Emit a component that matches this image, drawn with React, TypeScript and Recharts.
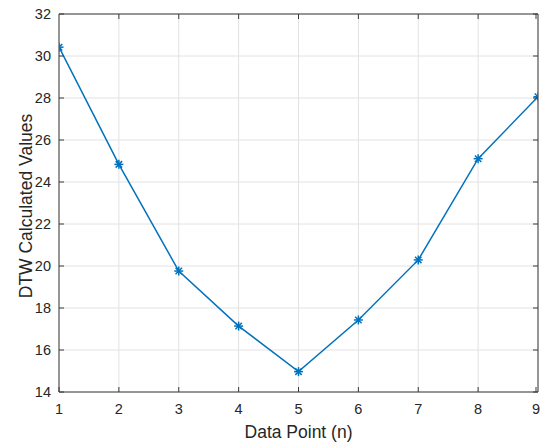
import React from "react";
import { LineChart, Line, XAxis, YAxis, CartesianGrid } from "recharts";

const dataPoints = [1, 2, 3, 4, 5, 6, 7, 8, 9];
const dtwValues = [30.42, 24.84, 19.76, 17.14, 14.97, 17.43, 20.29, 25.11, 28.06];
const xTicks = [1, 2, 3, 4, 5, 6, 7, 8, 9];
const yTicks = [14, 16, 18, 20, 22, 24, 26, 28, 30, 32];

const data = dataPoints.map((n, i) => ({ n, v: dtwValues[i] }));

const BLUE = "#0072BD";
const AXIS = "#3a3a3a";
const TEXT = "#262626";
const FONT = "'Liberation Sans', Arial, Helvetica, sans-serif";

function StarDot(props: any) {
  const { cx, cy } = props;
  if (cx == null || cy == null) return null;
  const r = 4.5;
  const d = r * 0.72;
  return (
    <g stroke={BLUE} strokeWidth={1.5}>
      <line x1={cx - r} y1={cy} x2={cx + r} y2={cy} />
      <line x1={cx} y1={cy - r} x2={cx} y2={cy + r} />
      <line x1={cx - d} y1={cy - d} x2={cx + d} y2={cy + d} />
      <line x1={cx - d} y1={cy + d} x2={cx + d} y2={cy - d} />
    </g>
  );
}

function BottomTick(props: any) {
  const { x, y, payload } = props;
  return (
    <g>
      <line x1={x} y1={y} x2={x} y2={y - 5} stroke={AXIS} />
      <text x={x} y={y + 22} textAnchor="middle" fontSize={14.5} fill={TEXT} fontFamily={FONT}>
        {payload.value}
      </text>
    </g>
  );
}

function TopTick(props: any) {
  const { x, y } = props;
  return <line x1={x} y1={y} x2={x} y2={y + 5} stroke={AXIS} />;
}

function LeftTick(props: any) {
  const { x, y, payload } = props;
  return (
    <g>
      <line x1={x} y1={y} x2={x + 5} y2={y} stroke={AXIS} />
      <text x={x - 8} y={y + 5} textAnchor="end" fontSize={14.5} fill={TEXT} fontFamily={FONT}>
        {payload.value}
      </text>
    </g>
  );
}

function RightTick(props: any) {
  const { x, y } = props;
  return <line x1={x} y1={y} x2={x - 5} y2={y} stroke={AXIS} />;
}

export default function App() {
  return (
    <div style={{ position: "absolute", left: 0, top: 0, background: "#fff" }}>
      <LineChart width={540} height={444} data={data} margin={{ top: 13, right: 1, bottom: 0, left: 0 }}>
        <CartesianGrid stroke="#e2e2e2" strokeWidth={1} />
        <XAxis
          dataKey="n"
          type="number"
          domain={[1, 9]}
          ticks={xTicks}
          allowDataOverflow
          height={52}
          tickSize={0}
          tickMargin={0}
          tickLine={false}
          tick={BottomTick}
          stroke={AXIS}
          label={{
            content: (p: any) => {
              const vb = p.viewBox;
              return (
                <text x={vb.x + vb.width / 2} y={vb.y + 46} textAnchor="middle" fontSize={17.5} fill={TEXT} fontFamily={FONT}>
                  Data Point (n)
                </text>
              );
            },
          }}
        />
        <XAxis
          xAxisId="top"
          orientation="top"
          type="number"
          domain={[1, 9]}
          ticks={xTicks}
          allowDataOverflow
          height={1}
          tickSize={0}
          tickMargin={0}
          tickLine={false}
          tick={TopTick}
          stroke={AXIS}
        />
        <YAxis
          type="number"
          domain={[14, 32]}
          ticks={yTicks}
          allowDataOverflow
          width={59}
          tickSize={0}
          tickMargin={0}
          tickLine={false}
          tick={LeftTick}
          stroke={AXIS}
          label={{
            content: (p: any) => {
              const vb = p.viewBox;
              const cx = vb.x + 32;
              const cy = vb.y + vb.height / 2 + 3;
              return (
                <text x={cx} y={cy} transform={`rotate(-90, ${cx}, ${cy})`} textAnchor="middle" fontSize={17.5} fill={TEXT} fontFamily={FONT}>
                  DTW Calculated Values
                </text>
              );
            },
          }}
        />
        <YAxis
          yAxisId="right"
          orientation="right"
          type="number"
          domain={[14, 32]}
          ticks={yTicks}
          allowDataOverflow
          width={1}
          tickSize={0}
          tickMargin={0}
          tickLine={false}
          tick={RightTick}
          stroke={AXIS}
        />
        <Line
          dataKey="v"
          stroke={BLUE}
          strokeWidth={1.5}
          dot={<StarDot />}
          activeDot={false}
          isAnimationActive={false}
        />
      </LineChart>
    </div>
  );
}
